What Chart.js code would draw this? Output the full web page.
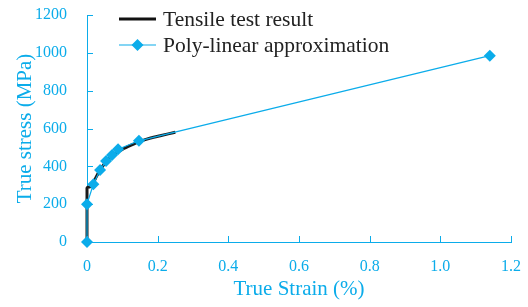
<!DOCTYPE html>
<html>
<head>
<meta charset="utf-8">
<script src="https://cdn.jsdelivr.net/npm/chart.js@4/dist/chart.umd.min.js"></script>
<style>
  html, body { margin: 0; padding: 0; background: #fff; }
  #wrap { width: 528px; height: 307px; }
</style>
</head>
<body>
<div id="wrap"><canvas id="stressChart" width="528" height="307"></canvas></div>
<script>
// data (strain in %, stress in MPa)
const tensileStrain = [0, 0, 0.003, 0.008, 0.015, 0.025, 0.037, 0.05, 0.065, 0.08, 0.1, 0.125, 0.15, 0.18, 0.21, 0.25];
const tensileStress = [0, 285, 290, 292, 300, 340, 380, 415, 445, 468, 490, 512, 532, 550, 563, 580];
const polyStrain = [0, 0, 0.018, 0.037, 0.054, 0.071, 0.088, 0.147, 1.14];
const polyStress = [0, 200, 305, 380, 428, 460, 490, 535, 985];
const legendNames = ['Tensile test result', 'Poly-linear approximation'];

const blue = '#0bacea';
const serif = "'Liberation Serif', 'DejaVu Serif', serif";

function toPoints(xs, ys) {
    return xs.map((x, i) => ({ x: x, y: ys[i] }));
}

// ticks pointing into the plot, plus the inset legend
const insideTicks = {
    id: 'insideTicks',
    afterDraw(chart) {
        const ctx = chart.ctx;
        const xs = chart.scales.x, ys = chart.scales.y;
        const area = chart.chartArea;
        ctx.save();
        ctx.strokeStyle = blue;
        ctx.lineWidth = 1;
        ctx.beginPath();
        xs.ticks.forEach(t => {
            const px = Math.round(xs.getPixelForValue(t.value)) + 0.5;
            ctx.moveTo(px, area.bottom);
            ctx.lineTo(px, area.bottom - 6);
        });
        ys.ticks.forEach(t => {
            const py = Math.round(ys.getPixelForValue(t.value)) + 0.5;
            ctx.moveTo(area.left, py);
            ctx.lineTo(area.left + 6, py);
        });
        ctx.stroke();

        // legend
        const lx = area.left + 32, ty = area.top + 4;
        ctx.font = '21.5px ' + serif;
        ctx.textBaseline = 'middle';
        ctx.fillStyle = '#222';
        ctx.strokeStyle = '#111';
        ctx.lineWidth = 3;
        ctx.beginPath();
        ctx.moveTo(lx, ty);
        ctx.lineTo(lx + 37, ty);
        ctx.stroke();
        ctx.fillText(legendNames[0], lx + 44, ty + 1);

        const ty2 = ty + 26;
        ctx.strokeStyle = blue;
        ctx.lineWidth = 1.2;
        ctx.beginPath();
        ctx.moveTo(lx, ty2);
        ctx.lineTo(lx + 37, ty2);
        ctx.stroke();
        ctx.fillStyle = blue;
        ctx.beginPath();
        ctx.moveTo(lx + 18.5, ty2 - 6);
        ctx.lineTo(lx + 24.5, ty2);
        ctx.lineTo(lx + 18.5, ty2 + 6);
        ctx.lineTo(lx + 12.5, ty2);
        ctx.closePath();
        ctx.fill();
        ctx.fillStyle = '#222';
        ctx.fillText(legendNames[1], lx + 44, ty2 + 1);
        ctx.restore();
    }
};

new Chart(document.getElementById('stressChart'), {
    type: 'scatter',
    data: {
        datasets: [{
            label: legendNames[0],
            data: toPoints(tensileStrain, tensileStress),
            showLine: true,
            borderColor: '#1a1a1a',
            borderWidth: 3,
            pointRadius: 0,
            tension: 0.2,
            clip: false,
            order: 2
        }, {
            label: legendNames[1],
            data: toPoints(polyStrain, polyStress),
            showLine: true,
            borderColor: blue,
            backgroundColor: blue,
            borderWidth: 1.2,
            pointStyle: 'rectRot',
            pointRadius: 6,
            pointBorderWidth: 0,
            clip: false,
            order: 1
        }]
    },
    options: {
        responsive: false,
        animation: false,
        layout: { padding: { top: 15, right: 17, left: 0, bottom: 0 } },
        plugins: {
            legend: { display: false },
            tooltip: { enabled: false }
        },
        scales: {
            x: {
                type: 'linear',
                min: 0,
                max: 1.2,
                afterFit: s => { s.height = 65; s.paddingRight = 0; },
                ticks: { stepSize: 0.2, color: blue, font: { family: serif, size: 16 }, padding: 7, maxRotation: 0 },
                grid: { display: false },
                border: { color: blue, width: 1 },
                title: { display: true, text: 'True Strain (%)', color: blue, font: { family: serif, size: 21 }, padding: { top: 0, bottom: 5 } }
            },
            y: {
                min: 0,
                max: 1200,
                afterFit: s => { s.width = 87; s.paddingTop = 0; s.paddingBottom = 0; },
                ticks: {
                    stepSize: 200, color: blue, font: { family: serif, size: 16 }, padding: 12,
                    callback: v => String(v)
                },
                grid: { display: false },
                border: { color: blue, width: 1 },
                title: { display: true, text: 'True stress (MPa)', color: blue, font: { family: serif, size: 21 }, padding: { top: 13, bottom: 0 } }
            }
        }
    },
    plugins: [insideTicks]
});
</script>
</body>
</html>
